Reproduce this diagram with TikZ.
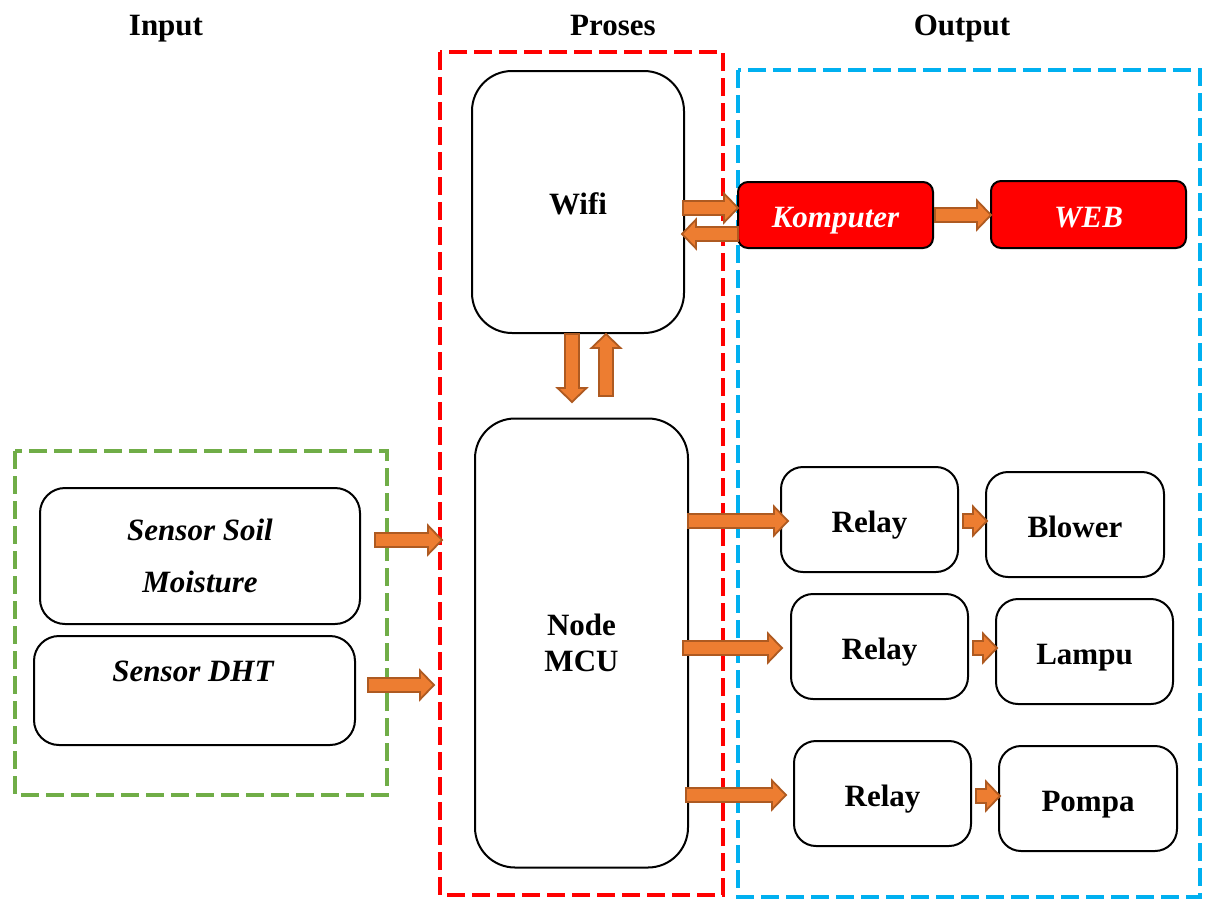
\documentclass[tikz,border=0pt]{standalone}
\usepackage{fontspec}
\setmainfont{Liberation Serif}
\usepackage{xcolor}
\usetikzlibrary{calc}

\definecolor{arroworange}{HTML}{ED7D31}
\definecolor{arrowedge}{HTML}{AE5A21}
\definecolor{groupgreen}{HTML}{70AD47}
\definecolor{groupred}{HTML}{FF0000}
\definecolor{groupblue}{HTML}{00B0F0}

\tikzset{
  every node/.style={font=\fontsize{31}{36}\selectfont\bfseries},
  oneline/.style={text height=28pt, text depth=3pt},
  multiline/.style={text height=, text depth=, align=center},
  box/.style={draw=black, line width=2pt, rounded corners=#1, inner sep=0pt, oneline},
  box/.default=22pt,
  redbox/.style={box=10pt, fill=groupred, text=white, font=\fontsize{31}{36}\selectfont\bfseries\itshape},
  group/.style={line width=4pt, dash pattern=on 18pt off 7pt},
  blockarrow/.style={draw=arrowedge, fill=arroworange, line width=1.8pt, line join=miter}
}

% block arrow from #1 to #2
\newcommand{\blockarrow}[2]{%
  \draw[blockarrow] let \p1=($(#2)-(#1)$), \n1={veclen(\x1,\y1)}, \n2={atan2(\y1,\x1)} in
    ($(#1)+(\n2+90:7pt)$) -- ($(#1)+(\n2:\n1-14pt)+(\n2+90:7pt)$)
    -- ($(#1)+(\n2:\n1-14pt)+(\n2+90:14.5pt)$) -- (#2)
    -- ($(#1)+(\n2:\n1-14pt)+(\n2-90:14.5pt)$) -- ($(#1)+(\n2:\n1-14pt)+(\n2-90:7pt)$)
    -- ($(#1)+(\n2-90:7pt)$) -- cycle;}

\begin{document}
\begin{tikzpicture}[x=1pt, y=-1pt]
    \useasboundingbox (0,0) rectangle (1213,900);

    % Titles
    \node[oneline] (tinput) at (166,23) {Input};
    \node[oneline] (tproses) at (613,23) {Proses};
    \node[oneline] (toutput) at (962,23) {Output};

    % Group frames
    \draw[group, groupgreen] (15,451) rectangle (387,795);
    \draw[group, groupred] (440,52) rectangle (723,895);
    \draw[group, groupblue] (738,70) rectangle (1200,897);

    % Input
    \node[box=25pt, multiline, minimum width=320pt, minimum height=136pt,
          font=\fontsize{31}{54}\selectfont\bfseries\itshape] (soil) at (200,556) {Sensor Soil\\[-2pt]Moisture};
    \node[box=25pt, minimum width=321pt, minimum height=109pt] (dht) at (194.5,690.5) {};
    \node[font=\fontsize{31}{36}\selectfont\bfseries\itshape] (dhtlabel) at (193,671) {Sensor DHT};

    % Proses
    \node[box=40pt, minimum width=212pt, minimum height=262pt] (wifi) at (578,202) {Wifi};
    \node[box=40pt, multiline, minimum width=213pt, minimum height=449pt] (mcu) at (581.5,643) {Node\\MCU};

    % Output
    \node[redbox, minimum width=195pt, minimum height=66pt] (komputer) at (835.5,215) {Komputer};
    \node[redbox, minimum width=195pt, minimum height=67pt] (web) at (1088.5,214.5) {WEB};

    \node[box, minimum width=177pt, minimum height=105pt] (relaya) at (869.5,519.5) {Relay};
    \node[box, minimum width=178pt, minimum height=105pt] (blower) at (1075,524.5) {Blower};
    \node[box, minimum width=177pt, minimum height=105pt] (relayb) at (879.5,646.5) {Relay};
    \node[box, minimum width=177pt, minimum height=105pt] (lampu) at (1084.5,651.5) {Lampu};
    \node[box, minimum width=177pt, minimum height=105pt] (relayc) at (882.5,793.5) {Relay};
    \node[box, minimum width=178pt, minimum height=105pt] (pompa) at (1088,798.5) {Pompa};

    % Arrow ends
    \coordinate (soilout) at (375,540);
    \coordinate (soilin) at (442,540);
    \coordinate (dhtout) at (368,685);
    \coordinate (dhtin) at (434,685);
    \coordinate (wifiout) at (683,208);
    \coordinate (kompin) at (738,208);
    \coordinate (kompout) at (738,234);
    \coordinate (wifiin) at (682,234);
    \coordinate (kompwebout) at (935,215);
    \coordinate (webin) at (991,215);
    \coordinate (wifidown) at (572,334);
    \coordinate (mcuin) at (572,402);
    \coordinate (mcuup) at (606,396);
    \coordinate (wifiup) at (606,334);
    \coordinate (mcuouta) at (688,521);
    \coordinate (relayain) at (788,521);
    \coordinate (mcuoutb) at (683,648);
    \coordinate (relaybin) at (782,648);
    \coordinate (mcuoutc) at (686,795);
    \coordinate (relaycin) at (786,795);
    \coordinate (relayaout) at (963,521);
    \coordinate (blowerin) at (987,521);
    \coordinate (relaybout) at (973,648);
    \coordinate (lampuin) at (997,648);
    \coordinate (relaycout) at (976,796);
    \coordinate (pompain) at (1000,796);

    % Block arrows
    \blockarrow{soilout}{soilin}
    \blockarrow{dhtout}{dhtin}
    \blockarrow{wifiout}{kompin}
    \blockarrow{kompout}{wifiin}
    \blockarrow{kompwebout}{webin}
    \blockarrow{wifidown}{mcuin}
    \blockarrow{mcuup}{wifiup}
    \blockarrow{mcuouta}{relayain}
    \blockarrow{mcuoutb}{relaybin}
    \blockarrow{mcuoutc}{relaycin}
    \blockarrow{relayaout}{blowerin}
    \blockarrow{relaybout}{lampuin}
    \blockarrow{relaycout}{pompain}

\end{tikzpicture}
\end{document}
